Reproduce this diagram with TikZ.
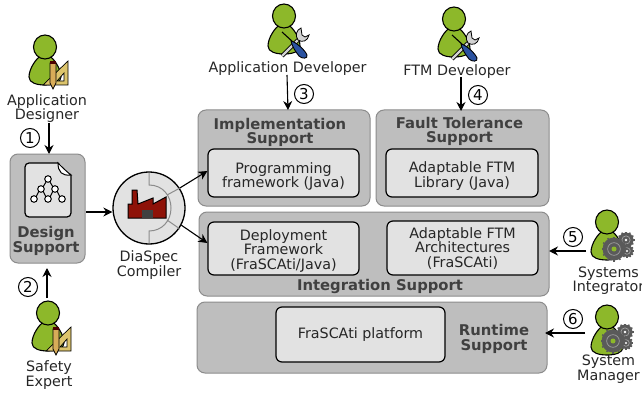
\documentclass[tikz,border=0pt]{standalone}
\usepackage{fontspec}
\setmainfont{DejaVu Sans}
\usetikzlibrary{arrows.meta,calc}
\definecolor{boxgray}{HTML}{BEBEBE}
\definecolor{innergray}{HTML}{E2E2E2}
\definecolor{edgegray}{HTML}{8C8C8C}
\definecolor{persongreen}{HTML}{8DB82A}
\definecolor{pencilc}{HTML}{D8AC58}
\definecolor{squarec}{HTML}{DCC46C}
\definecolor{gearc}{HTML}{5A5A5A}
\definecolor{factoryred}{HTML}{8E1208}
\definecolor{driverblue}{HTML}{2A52A0}
\tikzset{
  x=1pt,y=-1pt,
  outerbox/.style={draw=edgegray,line width=1pt,fill=boxgray,rounded corners=8pt,inner sep=0pt},
  innerbox/.style={draw=black,line width=1.2pt,fill=innergray,rounded corners=6pt,inner sep=0pt},
  lbl/.style={font=\fontsize{14.3}{14.5}\selectfont,align=center,text=black!85,inner sep=0pt},
  boldlbl/.style={font=\fontsize{14.8}{14.5}\selectfont\bfseries,align=center,text=black!75,inner sep=0pt},
  numc/.style={circle,draw=black,line width=1pt,minimum size=19pt,inner sep=0pt,font=\fontsize{15}{15}\selectfont},
  conn/.style={line width=1.1pt,-{Stealth[length=9pt,width=9pt]}},
  person/.pic={
    \draw[line width=1.1pt,fill=persongreen] (-3,8) .. controls (-9,11) and (-16,22) .. (-16,30)
       .. controls (-16,36) and (-8,38) .. (0,38) .. controls (8,38) and (16,36) .. (16,30)
       .. controls (16,22) and (9,11) .. (3,8) -- cycle;
    \draw[line width=1.1pt,fill=persongreen] (0,0) ellipse [x radius=11.5,y radius=12];
  },
  tools/.pic={
    \draw[line width=.7pt,fill=squarec,even odd rule] (-4,23) -- (21,-1) -- (21,23) -- cycle
       (10,19) -- (17,19) -- (17,11) -- cycle;
    \draw[line width=.7pt,fill=pencilc] (3,1) -- (9,1) -- (9,21) -- (6,27) -- (3,21) -- cycle;
    \fill[black!70!red] (3,-1) rectangle (9,2);
  },
  wrench/.pic={
    \draw[line width=4pt,black] (-2,24) -- (14,8);
    \draw[line width=2.4pt,gray!35] (-2,24) -- (14,8);
    \draw[line width=.8pt,fill=gray!35] (17,-4) .. controls (12,-2) and (11,4) .. (14,8)
       .. controls (18,11) and (24,9) .. (25,3) -- (21,5) -- (18,3) -- cycle;
    \draw[line width=1.1pt] (-2,0) -- (9,10);
    \draw[line width=.9pt,fill=driverblue] (7,9) .. controls (12,10) and (21,18) .. (23,23)
       .. controls (24,27) and (18,27) .. (15,24) .. controls (11,19) and (8,14) .. cycle;
  },
  gears/.pic={
    \foreach \cx/\cy/\r in {12/-9/7.5,13/2/6,0/0/11.5}{
      \fill[gearc] (\cx,\cy) circle [radius=\r];
      \foreach \a in {0,30,...,330}
        \draw[gearc,line width=1.5pt] (\cx,\cy) ++(\a:\r-1) -- ++(\a:2);
      \draw[gray!75,line width=.7pt] (\cx,\cy) circle [radius=\r*.55];
    }
    \fill[persongreen] (0,0) circle [radius=2.5];
    \fill[white] (12,-9) circle [radius=1.4];
    \fill[white] (13,2) circle [radius=1.1];
  }
}
\begin{document}
\begin{tikzpicture}
\useasboundingbox (0,0) rectangle (642,393);
% outer boxes
\node[outerbox,minimum width=75pt,minimum height=109pt] (design) at (47.5,208.5) {};
\node[outerbox,minimum width=172pt,minimum height=96pt] (impl) at (284,158) {};
\node[outerbox,minimum width=173pt,minimum height=96pt] (ft) at (462.5,158) {};
\node[outerbox,minimum width=350pt,minimum height=84pt] (integ) at (374,254) {};
\node[outerbox,minimum width=350pt,minimum height=71pt] (runtime) at (372,337.5) {};
% inner boxes
\node[innerbox,minimum width=151pt,minimum height=48pt] (prog) at (283.5,173) {};
\node[lbl] (progL) at (283.5,176.5) {Programming\\framework (Java)};
\node[innerbox,minimum width=152pt,minimum height=48pt] (ftmlib) at (462,173) {};
\node[lbl] (ftmlibL) at (462,176) {Adaptable FTM\\Library (Java)};
\node[innerbox,minimum width=151pt,minimum height=53pt] (deploy) at (283.5,248.5) {};
\node[lbl] (deployL) at (283.5,250.5) {Deployment\\Framework\\(FraSCAti/Java)};
\node[innerbox,minimum width=151pt,minimum height=54pt] (ftmarch) at (462.5,248) {};
\node[lbl] (ftmarchL) at (462.5,248.5) {Adaptable FTM\\Architectures\\(FraSCAti)};
\node[innerbox,minimum width=169pt,minimum height=55pt] (frascati) at (360.5,334.5) {};
\node[lbl] (frascatiL) at (360.5,335) {FraSCAti platform};
% bold labels
\node[boldlbl] (implL) at (280,132.5) {Implementation\\Support};
\node[boldlbl] (ftL) at (459.5,131.5) {Fault Tolerance\\Support};
\node[boldlbl] (integL) at (380,286) {Integration Support};
\node[boldlbl] (runL) at (494,339) {Runtime\\Support};
\node[boldlbl] (desL) at (46,241) {Design\\Support};
% document icon
\node[draw=black,line width=1.2pt,fill=innergray,minimum width=46pt,minimum height=54pt,rounded corners=4pt,inner sep=0pt] (doc) at (48,190) {};
\fill[boxgray] (58,162) -- (72.5,162) -- (72.5,175.5) -- cycle;
\draw[line width=1pt,fill=white] (58,163) .. controls (58,172) and (62,176) .. (71,175) .. controls (66,171) and (62,167) .. (58,163) -- cycle;
\draw[line width=1pt] (46,182) -- (43,187) (50,182) -- (53,187) (39,191) -- (36,197) (43,191) -- (46,197) (53,191) -- (50,197) (57,191) -- (60,197);
\foreach \p in {(48,179),(41,189),(55,189),(34,199),(48,199),(62,199)}
  \draw[line width=1pt,fill=white] \p circle [radius=3.3];
% compiler
\node[circle,draw=black,line width=1.3pt,fill=innergray,minimum size=72pt,inner sep=0pt] (comp) at (149,208) {};
\draw[edgegray,line width=1pt] (149,173) -- (149,185) .. controls (163,185) and (171,196) .. (171,208) .. controls (171,221) and (162,231) .. (149,231) -- (149,243);
\draw[edgegray,line width=1pt] (167,195) -- (180,188) (167,220) -- (180,229);
\draw[black,line width=1pt,fill=factoryred] (128,218) -- (128,204) -- (132,204) -- (132,190) -- (137,190) -- (138,204) -- (153,198) -- (153,204) -- (166,197) -- (166,218) -- cycle;
\fill[black!75] (142,210) rectangle (153,218);
\node[lbl] (compL) at (149,265) {DiaSpec\\Compiler};
% persons
\pic at (45,47) {person}; \pic at (47,62) {tools};
\pic at (48,313) {person}; \pic at (50,328) {tools};
\pic at (284,16) {person}; \pic at (284,32) {wrench};
\pic at (454,19) {person}; \pic at (454,35) {wrench};
\pic at (607,222) {person}; \pic at (614,249) {gears};
\pic at (607,317) {person}; \pic at (613,341) {gears};
% person labels
\node[lbl] (adL) at (47,108.5) {Application\\Designer};
\node[lbl] (seL) at (49,375) {Safety\\Expert};
\node[lbl] (devL) at (287.5,68.5) {Application Developer};
\node[lbl] (ftmL) at (457,71.5) {FTM Developer};
\node[lbl] (siL) at (608.5,280.5) {Systems\\Integrator};
\node[lbl] (smL) at (608.5,369) {System\\Manager};
% numbers
\node[numc] (n1) at (30,138) {1};
\node[numc] (n2) at (28,287) {2};
\node[numc] (n3) at (304,94) {3};
\node[numc] (n4) at (478,95) {4};
\node[numc] (n5) at (573,237) {5};
\node[numc] (n6) at (573,319) {6};
% connectors
\coordinate (d1) at (49,123);
\coordinate (d2) at (49,154);
\draw[conn] (d1) -- (d2);
\coordinate (d3) at (47,298); \coordinate (d4) at (47,268);
\draw[conn] (d3) -- (d4);
\coordinate (d5) at (287,75); \coordinate (d6) at (288,110);
\draw[conn] (d5) -- (d6);
\coordinate (d7) at (461,77); \coordinate (d8) at (461,111);
\draw[conn] (d7) -- (d8);
\coordinate (d9) at (586,251); \coordinate (d10) at (549,251);
\draw[conn] (d9) -- (d10);
\coordinate (d11) at (585,333); \coordinate (d12) at (545,333);
\draw[conn] (d11) -- (d12);
\coordinate (d13) at (86,212);
\draw[conn] (d13) -- (comp.west |- d13);
\draw[conn] (comp.33) -- (prog.west |- 0,171);
\draw[conn] (comp.-28) -- (deploy.west |- 0,243);
\end{tikzpicture}
\end{document}
